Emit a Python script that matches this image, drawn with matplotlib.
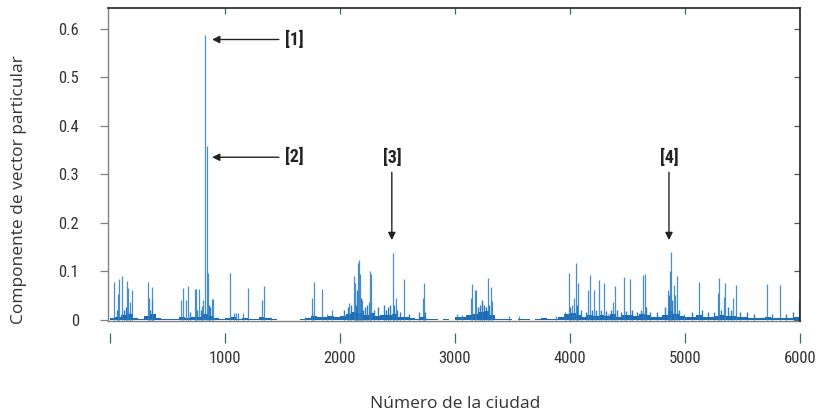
import matplotlib
matplotlib.use("Agg")
import matplotlib.pyplot as plt
from matplotlib import font_manager as fm
import numpy as np

# ---------------- data ----------------
spike_idx = [37, 72, 81, 107, 154, 162, 174, 194, 333, 339, 365, 371,
             617, 640, 664, 684, 739, 748, 774, 806, 815, 832, 846, 850,
             890, 899, 1046, 1078, 1096, 1116, 1159, 1203, 1325, 1342, 1404,
             1696, 1754, 1762, 1777, 1841, 1890, 1930,
             2084, 2119, 2130, 2159, 2168, 2175, 2191, 2258, 2264, 2272,
             2458, 2487, 2554, 2719, 2730,
             3020, 3063, 3142, 3151, 3171, 3183, 3232, 3284, 3310, 3322,
             3473, 3554, 3875, 3960, 3988,
             4020, 4038, 4050, 4072, 4159, 4177, 4206, 4249, 4293, 4333,
             4377, 4388, 4472, 4524, 4638, 4649, 4849, 4870, 4878, 4907,
             4915, 4933, 4991, 5125, 5290, 5296, 5342, 5351, 5420, 5443,
             5710, 5826, 5991]
spike_val = [0.078, 0.053, 0.083, 0.090, 0.079, 0.066, 0.037, 0.061, 0.077, 0.045, 0.068, 0.041,
             0.040, 0.066, 0.040, 0.069, 0.063, 0.063, 0.063, 0.027, 0.041, 0.587, 0.359, 0.097,
             0.042, 0.042, 0.097, 0.014, 0.014, 0.014, 0.014, 0.066, 0.040, 0.069, 0.005,
             0.005, 0.014, 0.045, 0.078, 0.064, 0.012, 0.020,
             0.035, 0.090, 0.075, 0.117, 0.123, 0.095, 0.040, 0.037, 0.100, 0.093,
             0.137, 0.044, 0.083, 0.044, 0.075,
             0.011, 0.010, 0.044, 0.073, 0.062, 0.062, 0.035, 0.086, 0.068, 0.038,
             0.007, 0.007, 0.007, 0.015, 0.097,
             0.030, 0.044, 0.116, 0.076, 0.061, 0.092, 0.061, 0.082, 0.076, 0.012,
             0.037, 0.069, 0.087, 0.083, 0.092, 0.095, 0.061, 0.100, 0.140, 0.071,
             0.050, 0.090, 0.012, 0.077, 0.055, 0.086, 0.047, 0.076, 0.045, 0.071,
             0.073, 0.071, 0.040]

# smaller components standing out of the background
minor_idx = [60, 120, 140, 180, 350, 380, 700, 760, 790, 860, 870,
             2040, 2070, 2095, 2140, 2150, 2180, 2200, 2220, 2240, 2300, 2330,
             2380, 2400, 2420, 2440, 2470, 2500, 2520, 2600, 2690, 2740,
             3200, 3215, 3240, 3255, 3270, 3295,
             4000, 4060, 4100, 4140, 4190, 4230, 4270, 4310, 4360, 4410, 4440,
             4490, 4540, 4580, 4620, 4660, 4700, 4760, 4830, 4860, 4890, 4950,
             5060, 5150, 5200, 5250, 5310, 5370, 5400, 5480, 5540, 5600, 5760,
             5880, 5940]
minor_val = [0.020, 0.020, 0.025, 0.015, 0.020, 0.012, 0.015, 0.020, 0.020, 0.030, 0.025,
             0.020, 0.025, 0.030, 0.030, 0.060, 0.045, 0.020, 0.025, 0.030, 0.020, 0.025,
             0.030, 0.020, 0.025, 0.030, 0.030, 0.020, 0.015, 0.012, 0.015, 0.015,
             0.025, 0.030, 0.040, 0.030, 0.025, 0.030,
             0.025, 0.030, 0.020, 0.015, 0.020, 0.020, 0.020, 0.018, 0.020, 0.020, 0.015,
             0.018, 0.020, 0.015, 0.020, 0.025, 0.015, 0.015, 0.025, 0.050, 0.040, 0.020,
             0.015, 0.020, 0.015, 0.015, 0.020, 0.025, 0.020, 0.015, 0.015, 0.012, 0.012,
             0.012, 0.015]

# low-level background of the components, per block of 50 cities (units of 0.001)
noise_block = 50
noise_level = [3, 6, 10, 12, 4, 2, 8, 12, 3, 2, 1, 2, 5, 4, 6, 5, 12, 8, 3, 1,
               4, 5, 2, 3, 2, 1, 6, 3, 1, 0, 0, 0, 0, 2, 3, 8, 5, 6, 8, 5,
               8, 12, 16, 14, 10, 14, 8, 9, 10, 12, 5, 6, 3, 2, 6, 2, 1, 0, 1, 0,
               5, 6, 9, 12, 16, 18, 10, 2, 1, 1, 0, 1, 1, 0, 1, 3, 1, 2, 6, 12,
               14, 10, 6, 10, 8, 10, 8, 12, 6, 10, 10, 8, 12, 10, 6, 5, 10, 18, 12, 8,
               6, 5, 9, 6, 5, 8, 10, 7, 8, 6, 5, 4, 3, 4, 5, 3, 4, 3, 4, 6]

x_ticks = [0, 1000, 2000, 3000, 4000, 5000, 6000]
x_ticklabels = ["", "1000", "2000", "3000", "4000", "5000", "6000"]
y_ticks = [0, 0.1, 0.2, 0.3, 0.4, 0.5, 0.6]
y_ticklabels = ["0", "0.1", "0.2", "0.3", "0.4", "0.5", "0.6"]

labels = ["[1]", "[2]", "[3]", "[4]"]

# ---------------- fonts ----------------
names = {f.name for f in fm.fontManager.ttflist}
def pick(*cands):
    for c in cands:
        if c in names:
            return c
    return "DejaVu Sans"
main_font = pick("Open Sans", "Lato", "Noto Sans")
cond_font = pick("Liberation Sans Narrow", "Roboto Condensed", "Roboto", "Open Sans")

blue = "#1c6db5"
teal = "#2f6f6f"
grey = "#808080"
dark = "#222222"
txt = "#333333"

fig = plt.figure(figsize=(8.17, 4.13), dpi=100)
ax = fig.add_axes([108 / 817, 1 - 321 / 413, 692 / 817, 313 / 413])

nx = np.arange(len(noise_level)) * noise_block
ax.bar(nx, np.array(noise_level) / 1000.0, width=noise_block, align="edge",
       color=blue, linewidth=0)
ax.vlines(minor_idx, 0, minor_val, color=blue, lw=1.0, alpha=0.9)
ax.vlines(spike_idx, 0, spike_val, color="#2a7bc2", lw=0.9, alpha=0.85)

ax.set_xlim(-15, 6000)
ax.set_ylim(-0.003, 0.643)

# spines
ax.spines["left"].set_color(grey)
ax.spines["left"].set_linewidth(1.0)
for s in ("top", "right"):
    ax.spines[s].set_color(dark)
    ax.spines[s].set_linewidth(1.2)
ax.spines["bottom"].set_position(("outward", 8.6))
ax.spines["bottom"].set_visible(False)
ax.plot([0, 1], [0, 0], transform=ax.transAxes, color=grey, lw=1.0, clip_on=False)

# ticks
ax.set_xticks(x_ticks)
ax.set_xticklabels(x_ticklabels)
ax.tick_params(axis="x", direction="out", length=7, width=0.9, color=teal,
               pad=6, labelsize=12, labelcolor=txt)
ax.set_yticks(y_ticks)
ax.set_yticklabels(y_ticklabels)
ax.tick_params(axis="y", direction="out", length=6, width=0.9, color=grey,
               pad=15, labelsize=12, labelcolor=txt)
for lab in ax.get_xticklabels() + ax.get_yticklabels():
    lab.set_fontfamily(cond_font)

secx = ax.secondary_xaxis("top")
secx.set_xticks(x_ticks[1:-1])
secx.tick_params(direction="in", length=4, width=0.9, color=teal,
                 labeltop=False, labelbottom=False)
secx.spines["top"].set_visible(False)
secy = ax.secondary_yaxis("right")
secy.set_yticks(y_ticks)
secy.tick_params(direction="in", length=4, width=0.9, color="#555555",
                 labelright=False, labelleft=False)
secy.spines["right"].set_visible(False)

# axis labels
ax.set_xlabel("Número de la ciudad", fontsize=12.5, family=main_font,
              color=txt, va="center")
ax.xaxis.set_label_coords(0.501, -0.265)
ax.set_ylabel("Componente de vector particular", fontsize=12.5,
              family=main_font, color=txt, va="center")
ax.yaxis.set_label_coords(-0.1286, 0.4185)

# annotations
ap = dict(arrowstyle="-|>", color=dark, lw=1.0, mutation_scale=11,
          shrinkA=0, shrinkB=0)
ax.annotate("", xy=(890, 0.578), xytext=(1470, 0.578), arrowprops=ap)
ax.annotate("", xy=(890, 0.335), xytext=(1470, 0.335), arrowprops=ap)
ax.annotate("", xy=(2452, 0.164), xytext=(2452, 0.304), arrowprops=ap)
ax.annotate("", xy=(4861, 0.164), xytext=(4861, 0.304), arrowprops=ap)
tk = dict(ha="center", va="center", fontsize=13, fontweight="bold",
          family=cond_font, color=dark)
ax.text(1604, 0.578, labels[0], **tk)
ax.text(1604, 0.335, labels[1], **tk)
ax.text(2452, 0.333, labels[2], **tk)
ax.text(4861, 0.333, labels[3], **tk)

fig.savefig("out.png", dpi=100)
